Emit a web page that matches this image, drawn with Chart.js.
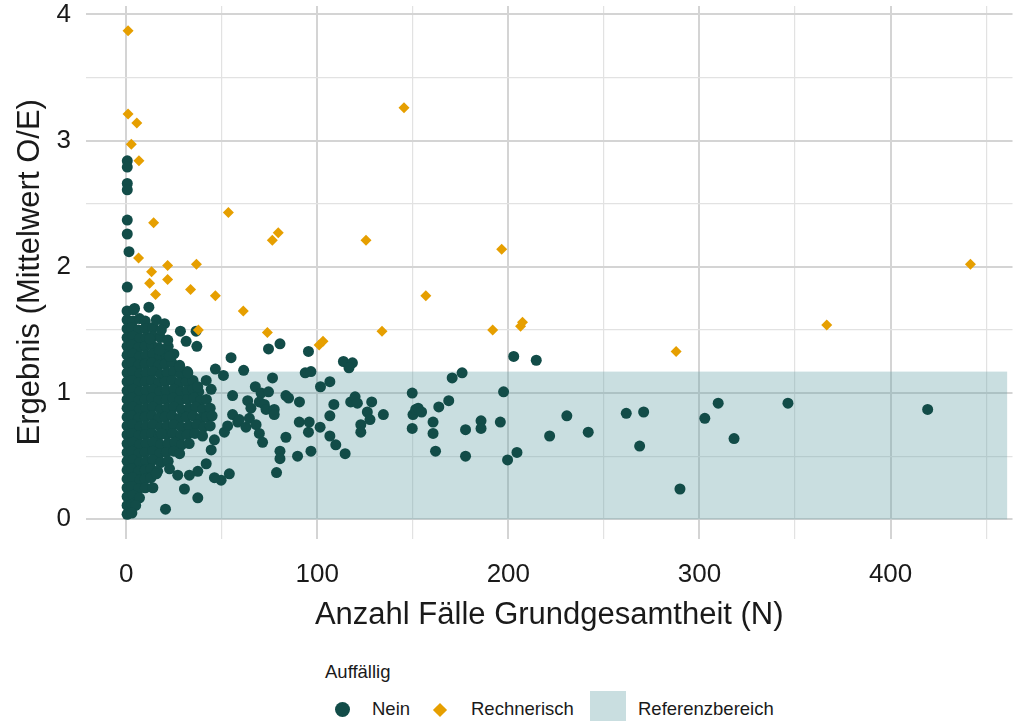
<!DOCTYPE html>
<html lang="de">
<head>
<meta charset="utf-8">
<title>Ergebnis vs. Anzahl Fälle</title>
<script src="https://cdn.jsdelivr.net/npm/chart.js@4.4.1/dist/chart.umd.min.js"></script>
<style>
  html, body { margin: 0; padding: 0; background: #fff; }
  #wrap { position: relative; width: 1018px; height: 721px; overflow: hidden;
          font-family: "Liberation Sans", Arial, sans-serif; color: #1a1a1a; }
  #chartBox { position: absolute; left: 0; top: 0; width: 1018px; height: 650px; }
  .lg { position: absolute; font-size: 18.5px; line-height: 22px; white-space: nowrap; }
  .sym { position: absolute; }
</style>
</head>
<body>
<div id="wrap">
  <div id="chartBox"><canvas id="scatter" width="1018" height="650"></canvas></div>
  <div class="lg" style="left:325px; top:661px;" id="legendTitle"></div>
  <div class="sym" style="left:335px; top:702px; width:15px; height:15px; border-radius:50%; background:#124c48;"></div>
  <div class="lg" style="left:372px; top:698px;" id="lgNein"></div>
  <div class="sym" style="left:435px; top:705px; width:10px; height:10px; transform:rotate(45deg); background:#e69f00;"></div>
  <div class="lg" style="left:471px; top:698px;" id="lgRech"></div>
  <div class="sym" style="left:590px; top:691px; width:36px; height:36px; background:#c9dee0;"></div>
  <div class="lg" style="left:638px; top:698px;" id="lgRef"></div>
</div>
<script>
// --- labels
const xTitle = 'Anzahl Fälle Grundgesamtheit (N)';
const yTitle = 'Ergebnis (Mittelwert O/E)';
const legendTitle = 'Auffällig';
const seriesNames = ['Nein', 'Rechnerisch', 'Referenzbereich'];

// --- axes (ggplot-style: major grid every 100 / 1, minor in between)
const xRange = [-21, 463.8];
const yRange = [-0.152, 4.066];
const xGrid = [0, 50, 100, 150, 200, 250, 300, 350, 400, 450];
const xLabels = [0, 100, 200, 300, 400];
const yGrid = [0, 0.5, 1, 1.5, 2, 2.5, 3, 3.5, 4];
const yLabels = [0, 1, 2, 3, 4];

// --- reference range (N from .. to, O/E from .. to)
const refN = [0, 461];
const refOE = [0, 1.17];

// --- "Rechnerisch" auffällig: [N, O/E]
const rechnerisch = [
  [1, 3.87], [1, 3.21], [5.6, 3.14], [2.7, 2.97], [6.7, 2.84], [14.4, 2.35],
  [53.5, 2.43], [76.5, 2.21], [79.6, 2.27], [6.5, 2.07], [21.7, 2.01], [36.8, 2.02],
  [13.3, 1.96], [21.7, 1.90], [12.3, 1.87], [15.4, 1.78], [33.7, 1.82], [46.7, 1.77],
  [61.3, 1.65], [37.8, 1.50], [73.9, 1.48], [101, 1.38], [103, 1.41], [133.9, 1.49],
  [145.4, 3.26], [125.5, 2.21], [156.8, 1.77], [196.5, 2.14], [191.8, 1.50],
  [206.4, 1.53], [207.4, 1.56], [287.8, 1.33], [366.6, 1.54], [441.8, 2.02]
];

// --- "Nein" (nicht auffällig): [N, O/E]
const neinSmallN = [
  [0.6, 2.84], [0.6, 2.79], [0.6, 2.66], [0.6, 2.61], [0.6, 2.37], [0.6, 2.26], [1.5, 2.12], [0.6, 1.84],
  [0.5, 1.65], [4, 1.66],
  [0.5, 1.58], [3.5, 1.57], [7, 1.59], [10, 1.57],
  [0.5, 1.51], [3, 1.52], [6.5, 1.50], [10, 1.51], [14, 1.52],
  [0.5, 1.44], [3.5, 1.45], [7, 1.43], [10.5, 1.44], [14, 1.45], [18, 1.44],
  [0.5, 1.37], [3, 1.38], [6.5, 1.36], [10, 1.37], [13.5, 1.38], [17, 1.36], [22, 1.37],
  [0.5, 1.30], [3.5, 1.31], [7, 1.29], [10.5, 1.30], [14, 1.31], [17.5, 1.29], [21, 1.30], [25, 1.31],
  [0.5, 1.23], [3, 1.24], [6.5, 1.22], [10, 1.23], [13.5, 1.24], [17, 1.22], [20.5, 1.23], [24, 1.24], [28, 1.22],
  [0.5, 1.16], [3.5, 1.17], [7, 1.15], [10.5, 1.16], [14, 1.17], [18, 1.15], [21.5, 1.16], [25, 1.17], [28.5, 1.15], [32, 1.17],
  [0.5, 1.09], [3, 1.10], [6.5, 1.08], [10, 1.09], [13.5, 1.10], [17, 1.08], [20.5, 1.09], [24, 1.10], [28, 1.08], [31.5, 1.09], [35, 1.10],
  [0.5, 1.02], [3.5, 1.03], [7, 1.01], [10.5, 1.02], [14, 1.03], [17.5, 1.01], [21, 1.02], [25, 1.03], [28.5, 1.01], [32, 1.02], [35, 1.03], [38, 1.01],
  [0.5, 0.95], [3, 0.96], [6.5, 0.94], [10, 0.95], [13.5, 0.96], [17, 0.94], [21, 0.95], [24.5, 0.96], [28, 0.94], [32, 0.95], [35.5, 0.96], [39, 0.94], [42, 0.95],
  [0.5, 0.88], [3.5, 0.89], [7, 0.87], [10.5, 0.88], [14, 0.89], [18, 0.87], [21.5, 0.88], [25, 0.89], [29, 0.87], [33, 0.88], [36.5, 0.89], [40, 0.87], [44, 0.88],
  [0.5, 0.81], [3, 0.82], [6.5, 0.80], [10, 0.81], [13.5, 0.82], [17, 0.80], [20.5, 0.81], [24, 0.82], [28, 0.80], [31.5, 0.81], [35, 0.82], [39, 0.80], [42, 0.81], [45, 0.82],
  [0.5, 0.74], [3.5, 0.75], [7, 0.73], [10.5, 0.74], [14, 0.75], [18, 0.73], [21.5, 0.74], [25, 0.75], [29, 0.73], [33, 0.74], [37, 0.75], [40.5, 0.73], [44, 0.74],
  [0.5, 0.67], [3, 0.68], [6.5, 0.66], [10, 0.67], [13.5, 0.68], [17, 0.66], [21, 0.67], [24.5, 0.68], [28.5, 0.66], [32, 0.67], [36, 0.68], [40, 0.66],
  [0.5, 0.60], [3.5, 0.61], [7, 0.59], [10.5, 0.60], [14, 0.61], [18, 0.59], [22, 0.60], [25.5, 0.61], [29, 0.59], [33, 0.60],
  [0.5, 0.53], [3, 0.54], [6.5, 0.52], [10, 0.53], [14, 0.54], [17.5, 0.52], [21, 0.53], [25, 0.54], [28, 0.52],
  [0.5, 0.46], [3.5, 0.47], [7, 0.45], [10.5, 0.46], [14, 0.47], [18, 0.45], [22, 0.46],
  [0.5, 0.39], [3, 0.40], [6.5, 0.38], [10, 0.39], [13, 0.40], [16.5, 0.38],
  [0.5, 0.32], [3.5, 0.33], [7, 0.31], [10, 0.32], [13, 0.33],
  [0.5, 0.25], [3, 0.26], [6.5, 0.24], [10, 0.25],
  [0.5, 0.18], [3.5, 0.19], [7, 0.17],
  [0.5, 0.11], [3, 0.12], [5, 0.11],
  [0.5, 0.04], [3, 0.05]
];

const neinMidN = [
  [11.9, 1.68], [4.4, 1.67], [15.8, 1.58], [20.1, 1.55], [18.4, 1.50], [28.4, 1.49], [36.6, 1.49],
  [31.4, 1.41], [37, 1.37], [12.3, 1.43], [21.8, 1.42], [54.9, 1.28], [46.7, 1.19], [50.9, 1.14],
  [61.5, 1.18], [41.9, 1.10], [44.5, 1.03], [55.7, 0.98], [22.7, 1.29], [27.9, 1.21], [32.3, 1.16],
  [37.5, 1.05], [17.5, 1.34],
  [20.6, 0.08], [37.5, 0.17], [30.5, 0.24], [54, 0.36], [49.7, 0.31], [46.2, 0.33], [41.9, 0.44],
  [37.5, 0.38], [33.1, 0.35], [27, 0.35], [22.7, 0.40], [14, 0.25], [15.8, 0.36], [18.4, 0.68],
  [51.4, 0.69], [44.5, 0.55], [46.2, 0.63], [55.7, 0.83], [58.4, 0.77], [53.1, 0.74],
  [74.5, 1.35], [80.5, 1.39], [95.4, 1.33], [76.6, 1.12], [93.7, 1.16], [96.7, 1.17], [113.7, 1.25],
  [118.4, 1.24], [116.6, 1.20], [101.7, 1.05], [106.6, 1.09], [67.6, 1.05], [70.6, 1.00], [74.5, 1.01],
  [83.6, 0.98], [85, 0.96], [90.7, 0.93], [63.6, 0.94], [65.3, 0.88], [69.7, 0.93], [72.3, 0.91],
  [73.2, 0.87], [77.5, 0.87], [77.5, 0.83], [59.2, 0.79], [62.7, 0.73], [64.5, 0.80], [68, 0.75],
  [69.7, 0.68], [71.4, 0.61], [83.6, 0.65], [90.6, 0.77], [95.8, 0.77], [95.4, 0.69], [101.5, 0.73],
  [106.6, 0.82], [108.7, 0.91], [117.5, 0.93], [119.8, 0.97], [121, 0.92], [128.5, 0.93], [126.2, 0.85],
  [127.6, 0.79], [134.6, 0.83], [122.8, 0.75], [122.8, 0.69], [106.6, 0.66], [109.7, 0.59], [114.6, 0.52],
  [96.7, 0.54], [89.7, 0.50], [80.5, 0.54], [80.5, 0.48], [78.7, 0.37], [149.7, 1.00], [150.1, 0.83],
  [149.7, 0.72], [151.5, 0.87]
];

const neinLargeN = [
  [202.8, 1.29], [214.6, 1.26], [170.6, 1.12], [175.8, 1.16], [197.5, 1.01], [168.8, 0.94],
  [163.6, 0.89], [152.8, 0.88], [154.6, 0.85], [160.6, 0.77], [185.7, 0.78], [185.7, 0.72],
  [195.8, 0.77], [160.6, 0.68], [177.6, 0.71], [221.6, 0.66], [161.9, 0.54], [177.6, 0.50],
  [204.5, 0.53], [199.6, 0.47],
  [230.6, 0.82], [241.8, 0.69], [261.7, 0.84], [270.8, 0.85], [268.7, 0.58], [289.8, 0.24],
  [302.8, 0.80], [309.8, 0.92], [318.1, 0.64], [346.3, 0.92], [419.4, 0.87]
];

const teal = '#124c48';
const orange = '#e69f00';
const ink = '#1a1a1a';
const fontFamily = '"Liberation Sans", Arial, sans-serif';

document.getElementById('legendTitle').textContent = legendTitle;
document.getElementById('lgNein').textContent = seriesNames[0];
document.getElementById('lgRech').textContent = seriesNames[1];
document.getElementById('lgRef').textContent = seriesNames[2];

const toXY = (arr) => arr.map(([x, y]) => ({ x, y }));

// shaded reference band, over the grid but under the points
const refBand = {
  id: 'refBand',
  beforeDatasetsDraw(chart) {
    const { ctx, scales: { x, y } } = chart;
    const x0 = x.getPixelForValue(refN[0]);
    const x1 = x.getPixelForValue(refN[1]);
    const y0 = y.getPixelForValue(refOE[1]);
    const y1 = y.getPixelForValue(refOE[0]);
    ctx.save();
    ctx.fillStyle = 'rgba(100,160,165,0.35)';
    ctx.fillRect(x0, y0, x1 - x0, y1 - y0);
    ctx.restore();
  }
};

const gridColor = (majors) => (c) => majors.includes(c.tick.value) ? '#d4d4d4' : '#e2e2e2';
const gridWidth = (majors) => (c) => majors.includes(c.tick.value) ? 2 : 1.2;

new Chart(document.getElementById('scatter'), {
  type: 'scatter',
  data: {
    datasets: [
      { label: seriesNames[1], data: toXY(rechnerisch), pointStyle: 'rectRot',
        pointRadius: 5.5, pointBorderWidth: 0, backgroundColor: orange, borderColor: orange },
      { label: seriesNames[0], data: toXY([...neinSmallN, ...neinMidN, ...neinLargeN]), pointStyle: 'circle',
        pointRadius: 5.5, pointBorderWidth: 0, backgroundColor: teal, borderColor: teal }
    ]
  },
  options: {
    responsive: false,
    animation: false,
    devicePixelRatio: 1,
    layout: { padding: { top: 6, right: 3, left: 0, bottom: 0 } },
    plugins: { legend: { display: false }, tooltip: { enabled: false } },
    scales: {
      x: {
        type: 'linear', min: xRange[0], max: xRange[1],
        afterBuildTicks: (s) => { s.ticks = xGrid.map(v => ({ value: v })); },
        afterFit: (s) => { s.height = 111.5; s.paddingLeft = 0; s.paddingRight = 0; },
        grid: { color: gridColor(xLabels), lineWidth: gridWidth(xLabels), drawTicks: false },
        border: { display: false },
        ticks: {
          autoSkip: false, maxRotation: 0, padding: 21, color: ink,
          font: { family: fontFamily, size: 26 },
          callback: (v) => xLabels.includes(v) ? String(v) : ''
        },
        title: { display: true, text: xTitle, color: ink,
                 font: { family: fontFamily, size: 31 }, padding: { top: 0, bottom: 16 } }
      },
      y: {
        type: 'linear', min: yRange[0], max: yRange[1],
        afterBuildTicks: (s) => { s.ticks = yGrid.map(v => ({ value: v })); },
        afterFit: (s) => { s.width = 86; s.paddingTop = 0; s.paddingBottom = 0; },
        grid: { color: gridColor(yLabels), lineWidth: gridWidth(yLabels), drawTicks: false },
        border: { display: false },
        ticks: {
          autoSkip: false, padding: 15, color: ink,
          font: { family: fontFamily, size: 26 },
          callback: (v) => yLabels.includes(v) ? String(v) : ''
        },
        title: { display: true, text: yTitle, color: ink,
                 font: { family: fontFamily, size: 31 }, padding: { top: 12, bottom: 0 } }
      }
    }
  },
  plugins: [refBand]
});
</script>
</body>
</html>
